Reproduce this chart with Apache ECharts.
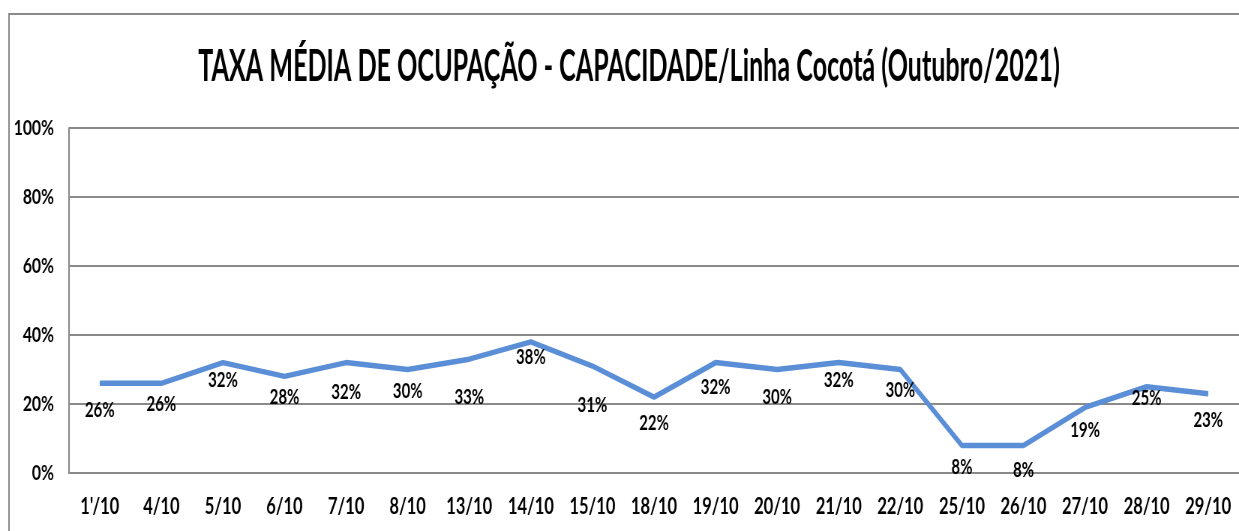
<!DOCTYPE html>
<html>
<head>
<meta charset="utf-8">
<script src="https://cdn.jsdelivr.net/npm/echarts@6/dist/echarts.min.js"></script>
<style>
    html,body{margin:0;padding:0;background:#fff;overflow:hidden;}
    /* the original picture is squeezed horizontally, so the chart is drawn wider and narrowed */
    #main{width:1652px;height:531px;transform:scaleX(0.75);transform-origin:0 0;}
</style>
</head>
<body>
<div id="main"></div>
<script>
    var titleText = 'TAXA MÉDIA DE OCUPAÇÃO - CAPACIDADE/Linha Cocotá (Outubro/2021)';

    // dias do mês
    var dias = ['1\'/10','4/10','5/10','6/10','7/10','8/10','13/10','14/10','15/10','18/10',
        '19/10','20/10','21/10','22/10','25/10','26/10','27/10','28/10','29/10'];
    // taxa média de ocupação (%)
    var taxa = [26,26,32,28,32,30,33,38,31,22,32,30,32,30,8,8,19,25,23];
    // eixo y
    var yTicks = [0,20,40,60,80,100];

    // quanto cada rótulo fica abaixo do ponto (px), só estilo
    var labelDrop = [27,21,18,21,30,22,38,16,39,26,25,28,18,21,22,25,23,12,27];

    var font = 'Lato';
    var grey = '#8a8a8a';

    // largura do titulo para encaixar na mesma largura da figura
    var ctx = document.createElement('canvas').getContext('2d');
    ctx.font = 'bold 44px ' + font;
    var tw = ctx.measureText(titleText).width;

    var seriesData = taxa.map(function (v, i) {
        return {
            value: v,
            label: {offset: [0, labelDrop[i]]}
        };
    });

    var myChart = echarts.init(document.getElementById('main'));
    var option = {
        backgroundColor: '#fff',
        animation: false,
        graphic: [
            {
                type: 'rect',
                silent: true,
                shape: {x: 12, y: 14, width: 2000, height: 1000},
                style: {fill: 'none', stroke: grey, lineWidth: 2}
            },
            {
                type: 'text',
                x: 838.7,
                y: 67,
                scaleX: 1149 / tw,
                style: {
                    text: titleText,
                    fill: '#000',
                    font: 'bold 44px ' + font,
                    textAlign: 'center',
                    textVerticalAlign: 'middle'
                }
            }
        ],
        grid: {left: 92, right: 0, top: 128, bottom: 58},
        xAxis: {
            type: 'category',
            data: dias,
            boundaryGap: true,
            axisLine: {show: true, lineStyle: {color: grey, width: 2}},
            axisTick: {show: false},
            axisLabel: {
                color: '#000',
                fontFamily: font,
                fontWeight: 'bold',
                fontSize: 22,
                margin: 23,
                interval: 0
            }
        },
        yAxis: {
            type: 'value',
            min: yTicks[0],
            max: yTicks[yTicks.length - 1],
            interval: yTicks[1] - yTicks[0],
            axisLine: {show: true, lineStyle: {color: grey, width: 2}},
            axisTick: {show: false},
            splitLine: {lineStyle: {color: grey, width: 2}},
            axisLabel: {
                color: '#000',
                fontFamily: font,
                fontWeight: 'bold',
                fontSize: 21,
                margin: 20,
                formatter: '{value}%'
            }
        },
        series: [
            {
                type: 'line',
                data: seriesData,
                symbol: 'circle',
                symbolSize: 1,
                showSymbol: true,
                lineStyle: {color: '#5a8ed6', width: 5.5},
                itemStyle: {color: '#5a8ed6'},
                label: {
                    show: true,
                    position: 'inside',
                    color: '#000',
                    fontFamily: font,
                    fontWeight: 'bold',
                    fontSize: 20,
                    formatter: '{c}%'
                }
            }
        ]
    };
    myChart.setOption(option);
</script>
</body>
</html>
